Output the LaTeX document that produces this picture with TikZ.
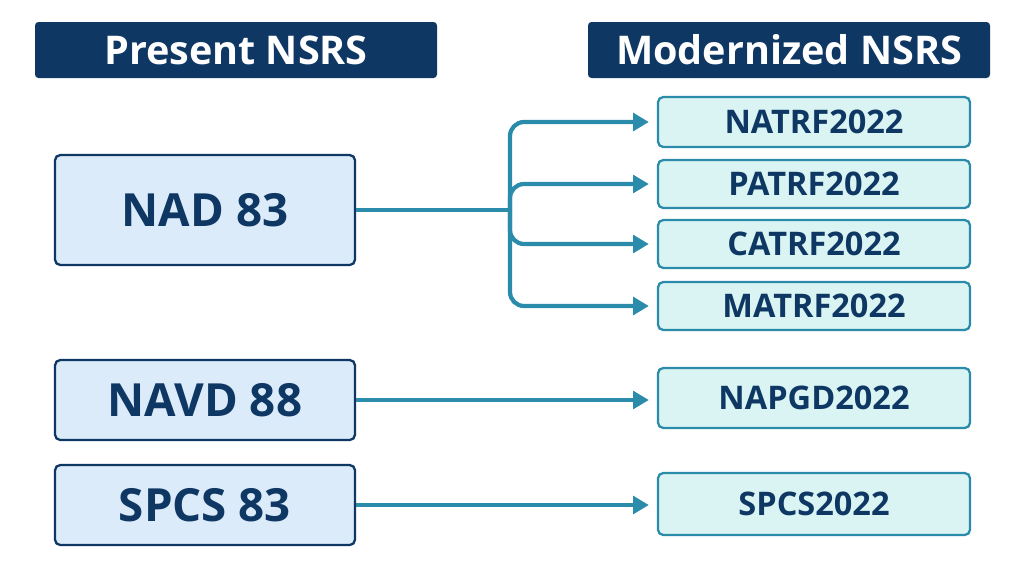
\documentclass[tikz,border=0pt]{standalone}
\usepackage{fontspec}
\setmainfont{Open Sans}
\usetikzlibrary{positioning,arrows.meta}
\definecolor{navy}{HTML}{0E3763}
\definecolor{teal}{HTML}{2A8CAA}
\definecolor{leftfill}{HTML}{DCEBF9}
\definecolor{rightfill}{HTML}{D9F4F3}
\tikzset{
  header/.style={fill=navy,rounded corners=2pt,text=white,font=\bfseries\fontsize{22.5}{26}\selectfont,minimum width=402*0.02cm,minimum height=56*0.02cm},
  oldbox/.style={draw=navy,line width=1.3pt,fill=leftfill,rounded corners=3pt,text=navy,font=\bfseries\fontsize{26}{30}\selectfont,minimum width=300*0.02cm},
  newbox/.style={draw=teal,line width=1.3pt,fill=rightfill,rounded corners=3pt,text=navy,font=\bfseries\fontsize{18.5}{22}\selectfont,minimum width=312*0.02cm},
  conn/.style={teal,line width=2.4pt,-{Triangle[length=9pt,width=10pt]},shorten >=8*0.02cm,rounded corners=8pt}
}
\begin{document}
\begin{tikzpicture}[x=0.02cm,y=-0.02cm]
\useasboundingbox[fill=white] (0,0) rectangle (1024,576);

% headers
\node[header] (present) at (236,50) {Present NSRS};
\node[header] (modern) at (789,50) {Modernized NSRS};

% present systems
\node[oldbox,minimum height=110*0.02cm] (nad) at (205,210) {NAD 83};
\node[oldbox,minimum height=80*0.02cm] (navd) at (205,400) {NAVD 88};
\node[oldbox,minimum height=80*0.02cm] (spcs) at (205,505) {SPCS 83};

% modernized systems
\node[newbox,minimum height=50*0.02cm] (natrf) at (814,122) {NATRF2022};
\node[newbox,minimum height=48*0.02cm] (patrf) at (814,184) {PATRF2022};
\node[newbox,minimum height=48*0.02cm] (catrf) at (814,244) {CATRF2022};
\node[newbox,minimum height=48*0.02cm] (matrf) at (814,306) {MATRF2022};
\node[newbox,minimum height=60*0.02cm] (napgd) at (814,398) {NAPGD2022};
\node[newbox,minimum height=62*0.02cm] (spcsnew) at (814,504) {SPCS2022};

% connectors
\coordinate (split) at (510,210);
\draw[teal,line width=2.4pt] (nad.east) -- (split);
\foreach \t in {natrf,patrf,catrf,matrf}
  \draw[conn] (split) |- (\t.west);
\draw[conn] (navd.east) -- (napgd.west |- navd.east);
\draw[conn] (spcs.east) -- (spcsnew.west |- spcs.east);
\end{tikzpicture}
\end{document}
